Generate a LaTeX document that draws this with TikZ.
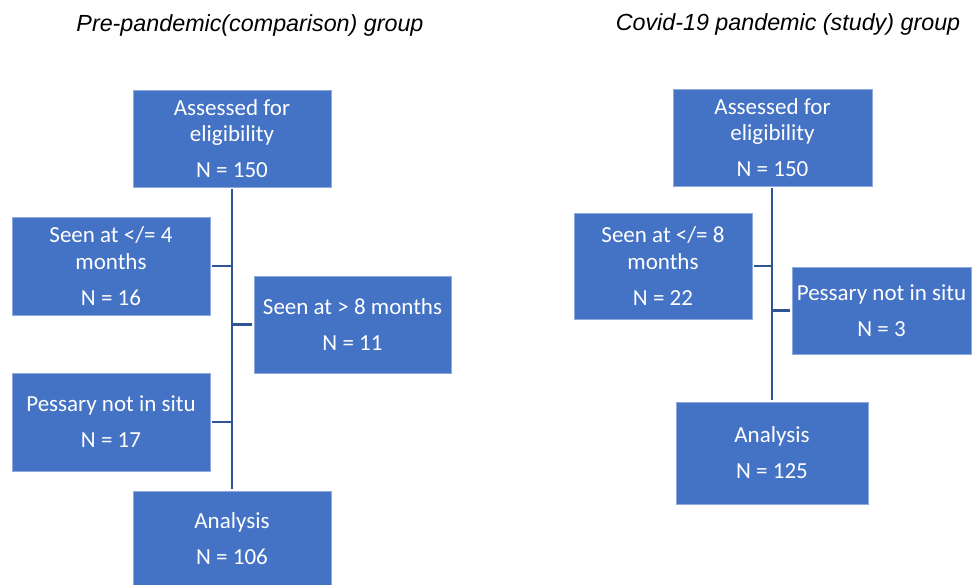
\documentclass[tikz,border=0pt]{standalone}
\usepackage{fontspec}
\setmainfont{Carlito}
\newfontfamily\titlefont{Liberation Sans}
\definecolor{boxblue}{HTML}{4472C4}
\definecolor{boxedge}{HTML}{8FAADC}
\definecolor{linkblue}{HTML}{2F5597}
\begin{document}
\begin{tikzpicture}[x=1pt,y=-1pt,
  fbox/.style={rectangle, fill=boxblue, draw=boxedge, line width=0.6pt,
    text=white, align=center, inner sep=0pt, outer sep=2pt,
    font=\fontsize{23}{26.5}\selectfont},
  link/.style={draw=linkblue, line width=2.3pt},
  heading/.style={font=\titlefont\itshape\fontsize{23.3}{27}\selectfont, anchor=base, inner sep=0pt}]
\useasboundingbox (0,0) rectangle (980,584);
% titles
\node[heading] (t1) at (250,31) {Pre-pandemic(comparison) group};
\node[heading] (t2) at (788,30) {Covid-19 pandemic (study) group};
% left group
\node[fbox, minimum width=198pt, minimum height=97pt] (A1) at (232,138.5) {Assessed for\\eligibility\\[9.5pt]N = 150};
\node[fbox, minimum width=198pt, minimum height=98pt] (S4) at (111,266) {Seen at </= 4\\months\\[9.5pt]N = 16};
\node[fbox, minimum width=197pt, minimum height=97pt] (S8) at (352.5,324.5) {Seen at > 8 months\\[9.5pt]N = 11};
\node[fbox, minimum width=198pt, minimum height=98pt] (P17) at (111,422) {Pessary not in situ\\[9.5pt]N = 17};
\node[fbox, minimum width=198pt, minimum height=95pt] (An1) at (232,538.5) {Analysis\\[9.5pt]N = 106};
% right group
\node[fbox, minimum width=199pt, minimum height=97pt] (A2) at (772.5,137.5) {Assessed for\\eligibility\\[9.5pt]N = 150};
\node[fbox, minimum width=178pt, minimum height=106pt] (S22) at (663,266) {Seen at </= 8\\months\\[9.5pt]N = 22};
\node[fbox, minimum width=179pt, minimum height=87pt] (P3) at (881.5,310.5) {Pessary not in situ\\[9.5pt]N = 3};
\node[fbox, minimum width=192pt, minimum height=102pt] (An2) at (772,453) {Analysis\\[9.5pt]N = 125};
% connectors left
\draw[link] (A1.south) -- (An1.north -| A1.south);
\draw[link] (S4.east) -- (S4.east -| A1.south);
\draw[link] (S8.west) -- (S8.west -| A1.south);
\draw[link] (P17.east) -- (P17.east -| A1.south);
% connectors right
\draw[link] (A2.south -| 772,0) -- (An2.north -| 772,0);
\draw[link] (S22.east) -- (S22.east -| 772,0);
\draw[link] (P3.west) -- (P3.west -| 772,0);
\end{tikzpicture}
\end{document}
